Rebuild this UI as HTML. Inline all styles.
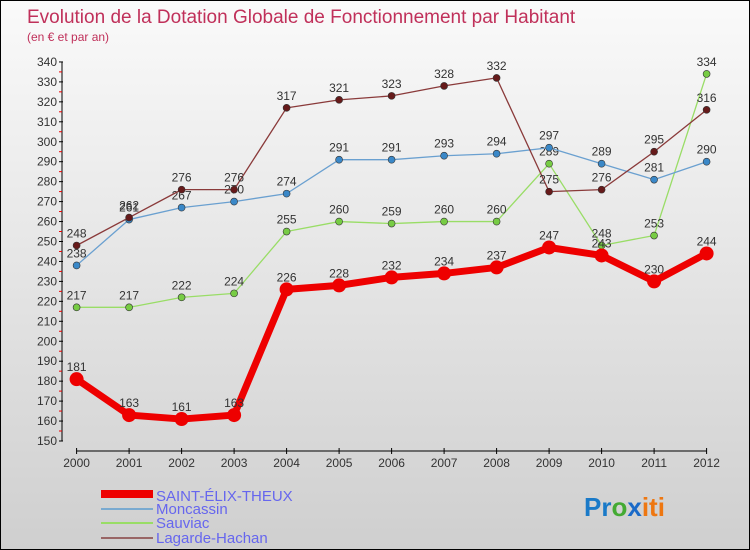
<!DOCTYPE html>
<html><head><meta charset="utf-8"><style>
body{margin:0}
#c{width:750px;height:550px;position:relative;box-sizing:border-box;border:1px solid #000;background:linear-gradient(#fafafa,#cfcfcf);font-family:"Liberation Sans",sans-serif;overflow:hidden}
text{font-family:"Liberation Sans",sans-serif}
</style></head><body>
<div id="c">
<svg id="s" width="750" height="550" style="position:absolute;left:0;top:0">
<text x="26" y="22" font-size="19" fill="#c0305a">Evolution de la Dotation Globale de Fonctionnement par Habitant</text>
<text x="26" y="40" font-size="12" fill="#c0305a">(en € et par an)</text>
<g id="axes"></g><g id="series"></g>
<g>
<rect x="100" y="489" width="52" height="8" fill="#e00"/>
<text x="155" y="500" font-size="15" fill="#6666ee">SAINT-ÉLIX-THEUX</text>
<line x1="100" y1="508" x2="152" y2="508" stroke="#7aaad0" stroke-width="2"/>
<text x="155" y="513" font-size="15" fill="#6666ee">Moncassin</text>
<line x1="100" y1="522" x2="152" y2="522" stroke="#99dd66" stroke-width="2"/>
<text x="155" y="527" font-size="15" fill="#6666ee">Sauviac</text>
<line x1="100" y1="537" x2="152" y2="537" stroke="#996666" stroke-width="2"/>
<text x="155" y="542" font-size="15" fill="#6666ee">Lagarde-Hachan</text>
</g>
<text x="583" y="515" font-size="26" font-weight="bold"><tspan fill="#1a7ac8">Pr</tspan><tspan fill="#44aa33">o</tspan><tspan fill="#1a6ac8">x</tspan><tspan fill="#ee7711">iti</tspan></text>
</svg>
</div>
<script>
const years=[2000,2001,2002,2003,2004,2005,2006,2007,2008,2009,2010,2011,2012];
const saint=[181,163,161,163,226,228,232,234,237,247,243,230,244];
const moncassin=[238,261,267,270,274,291,291,293,294,297,289,281,290];
const sauviac=[217,217,222,224,255,260,259,260,260,289,248,253,334];
const lagarde=[248,262,276,276,317,321,323,328,332,275,276,295,316];
const yTicks=[150,160,170,180,190,200,210,220,230,240,250,260,270,280,290,300,310,320,330,340];
const NS="http://www.w3.org/2000/svg";
const X=i=>75.6+i*52.5;
const Y=v=>440-(v-150)*1.995;
function mk(t,a,p){const e=document.createElementNS(NS,t);for(const k in a)e.setAttribute(k,a[k]);p.appendChild(e);return e;}
const ax=document.getElementById('axes'),sg=document.getElementById('series');
let l=mk('line',{x1:61,y1:61,x2:61,y2:440,stroke:'#000'},ax);

l=mk('line',{x1:75.6,y1:450,x2:705.6,y2:450,stroke:'#000'},ax);

yTicks.forEach(v=>{
 mk('line',{x1:58,x2:62,y1:Y(v),y2:Y(v),stroke:'#000'},ax);
 if(v<340)mk('line',{x1:58,x2:61,y1:Y(v)-10,y2:Y(v)-10,stroke:'#e00'},ax);
 const t=mk('text',{x:56,y:Y(v)+4,'font-size':12,fill:'#333','text-anchor':'end'},ax);t.textContent=v;
 
});
years.forEach((y,i)=>{
 mk('line',{x1:X(i),x2:X(i),y1:447,y2:453,stroke:'#000'},ax);
 const t=mk('text',{x:X(i),y:466,'font-size':12,fill:'#333','text-anchor':'middle'},ax);t.textContent=y;
 
});
function series(d,col,w,r,dot,name,big){
 const g=mk('g',{},sg);
 
 mk('polyline',{points:d.map((v,i)=>X(i)+','+Y(v)).join(' '),fill:'none',stroke:col,'stroke-width':w,'stroke-linejoin':'round'},g);
 d.forEach((v,i)=>{
  const c=mk('circle',{cx:X(i),cy:Y(v),r:r,fill:dot,stroke:'#333','stroke-width':big?0:0.6},g);
  
  const t=mk('text',{x:X(i),y:Y(v)-8,'font-size':12,fill:'#333','text-anchor':'middle'},g);t.textContent=v;
 });
}
series(sauviac,'#99dd66',1.3,3.5,'#77cc44','sauviac');
series(moncassin,'#6aa0d0',1.3,3.5,'#3a88c8','moncassin');
series(lagarde,'#8a3a3a',1.3,3.5,'#661a1a','lagarde');
series(saint,'#ee0000',7,7,'#ee0000','saint-elix',true);
</script>
</body></html>
